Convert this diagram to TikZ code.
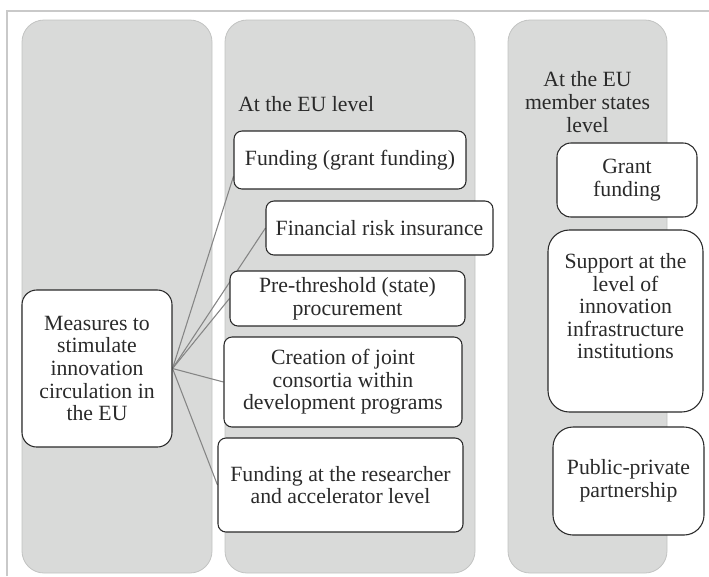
\documentclass[tikz,border=0pt]{standalone}
\usepackage{fontspec}
\setmainfont{Liberation Serif}
\newfontfamily\timesface{Liberation Serif}
\usetikzlibrary{positioning}
\pgfdeclarelayer{back}
\pgfdeclarelayer{links}
\pgfsetlayers{back,links,main}
\definecolor{colfill}{HTML}{D9DAD9}
\definecolor{coledge}{HTML}{C2C3C2}
\definecolor{ink}{HTML}{2A2A2A}
\definecolor{linkgray}{HTML}{858585}
\definecolor{framegray}{HTML}{C9C9C9}
\tikzset{
  txt/.style={font=\timesface\fontsize{16.3pt}{16.9pt}\selectfont, text=ink, align=center, inner sep=0pt},
  column/.style={fill=colfill, draw=coledge, line width=0.6pt, rounded corners=16.5pt},
  box/.style={txt, draw=ink, fill=white, line width=0.8pt, rounded corners=6pt},
  wh/.style 2 args={minimum width=#1*0.75pt, minimum height=#2*0.75pt},
  link/.style={draw=linkgray, line width=0.8pt}
}
\begin{document}
\begin{tikzpicture}[x=0.75pt, y=-0.75pt]
\useasboundingbox (0,0) rectangle (709,576);

% outer frame (top and left edges)
\draw[framegray, line width=1pt] (7,576) -- (7,11) -- (709,11);

% three grey columns
\begin{pgfonlayer}{back}
  \draw[column] (22,20) rectangle (212,573);
  \draw[column] (225,20) rectangle (475,573);
  \draw[column] (508,20) rectangle (667,573);
\end{pgfonlayer}

% column headings
\node[txt, anchor=base west] (hdeu) at (238,111) {At the EU level};
\node[txt, anchor=base] (hdms) at (587.5,132) {At the EU\\member states\\level};

% root box
\node[box, rounded corners=11pt, wh={150}{157}] (root) at (97,368.5)
  {Measures to\\stimulate\\innovation\\circulation in\\the EU};

% EU-level measures
\node[box, wh={232}{58}] (fund) at (350,160) {Funding (grant funding)};
\node[box, wh={227}{54}] (fin) at (379.5,228) {Financial risk insurance};
\node[box, wh={235}{55}] (pre) at (347.5,298.5) {Pre-threshold (state)\\procurement};
\node[box, wh={238}{90}] (crea) at (343,382) {Creation of joint\\consortia within\\development programs};
\node[box, wh={245}{94}] (res) at (340.5,485) {Funding at the researcher\\and accelerator level};

% member-state measures
\node[box, rounded corners=10.5pt, wh={140}{74}] (grant) at (627,180) {Grant\\funding};
\node[box, rounded corners=16pt, wh={155}{182}] (supp) at (625.5,321)
  {Support at the\\level of\\innovation\\infrastructure\\institutions\\\strut};
\node[box, rounded corners=15pt, wh={151}{108}] (ppp) at (628.5,481) {Public-private\\partnership};

% connectors from the root
\begin{pgfonlayer}{links}
  \draw[link] (root.east) -- (fund.188);
  \draw[link] (root.east) -- (fin.west);
  \draw[link] (root.east) -- (pre.west);
  \draw[link] (root.east) -- (crea.west);
  \draw[link] (root.east) -- (res.west);
\end{pgfonlayer}
\end{tikzpicture}
\end{document}
